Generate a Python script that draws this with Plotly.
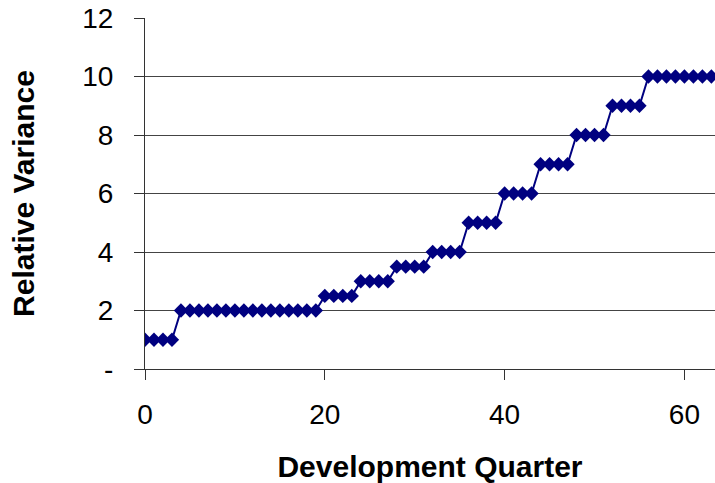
import plotly.graph_objects as go

# Relative variance by development quarter (steps every four quarters)
quarters = list(range(0, 65))
variance = (
    [1.0] * 4      # 0-3
    + [2.0] * 16   # 4-19
    + [2.5] * 4    # 20-23
    + [3.0] * 4    # 24-27
    + [3.5] * 4    # 28-31
    + [4.0] * 4    # 32-35
    + [5.0] * 4    # 36-39
    + [6.0] * 4    # 40-43
    + [7.0] * 4    # 44-47
    + [8.0] * 4    # 48-51
    + [9.0] * 4    # 52-55
    + [10.0] * 9   # 56-64
)

y_tick_vals = [0, 2, 4, 6, 8, 10, 12]
y_tick_text = ["-", "2", "4", "6", "8", "10", "12"]
x_tick_vals = [0, 20, 40, 60]

navy = "#000080"
axis_col = "#333333"
font_family = "Liberation Sans, Arial, sans-serif"

fig = go.Figure(
    go.Scatter(
        x=quarters,
        y=variance,
        mode="lines+markers",
        line=dict(color=navy, width=2),
        marker=dict(symbol="diamond", size=11, color=navy),
        showlegend=False,
    )
)

fig.update_layout(
    width=715,
    height=483,
    margin=dict(l=145, r=0, t=18, b=114),
    paper_bgcolor="white",
    plot_bgcolor="white",
    font=dict(family=font_family, color="black", size=28),
)

fig.update_xaxes(
    range=[0, 63.4],
    tickvals=x_tick_vals,
    ticks="outside",
    ticklen=10,
    tickcolor=axis_col,
    ticklabelstandoff=10,
    showline=True,
    linecolor=axis_col,
    linewidth=1,
    showgrid=False,
    zeroline=False,
    tickfont=dict(size=28),
    title=dict(text="<b>Development Quarter</b>", font=dict(size=30), standoff=27),
)

fig.update_yaxes(
    range=[0, 12],
    tickvals=y_tick_vals,
    ticktext=y_tick_text,
    ticks="outside",
    ticklen=10,
    tickcolor=axis_col,
    ticklabelstandoff=15,
    showline=True,
    linecolor=axis_col,
    linewidth=1,
    showgrid=True,
    gridcolor="#444444",
    gridwidth=1,
    zeroline=False,
    tickfont=dict(size=28),
    title=dict(text="<b>Relative Variance</b>", font=dict(size=30), standoff=38),
)

fig.write_html("out.html")
